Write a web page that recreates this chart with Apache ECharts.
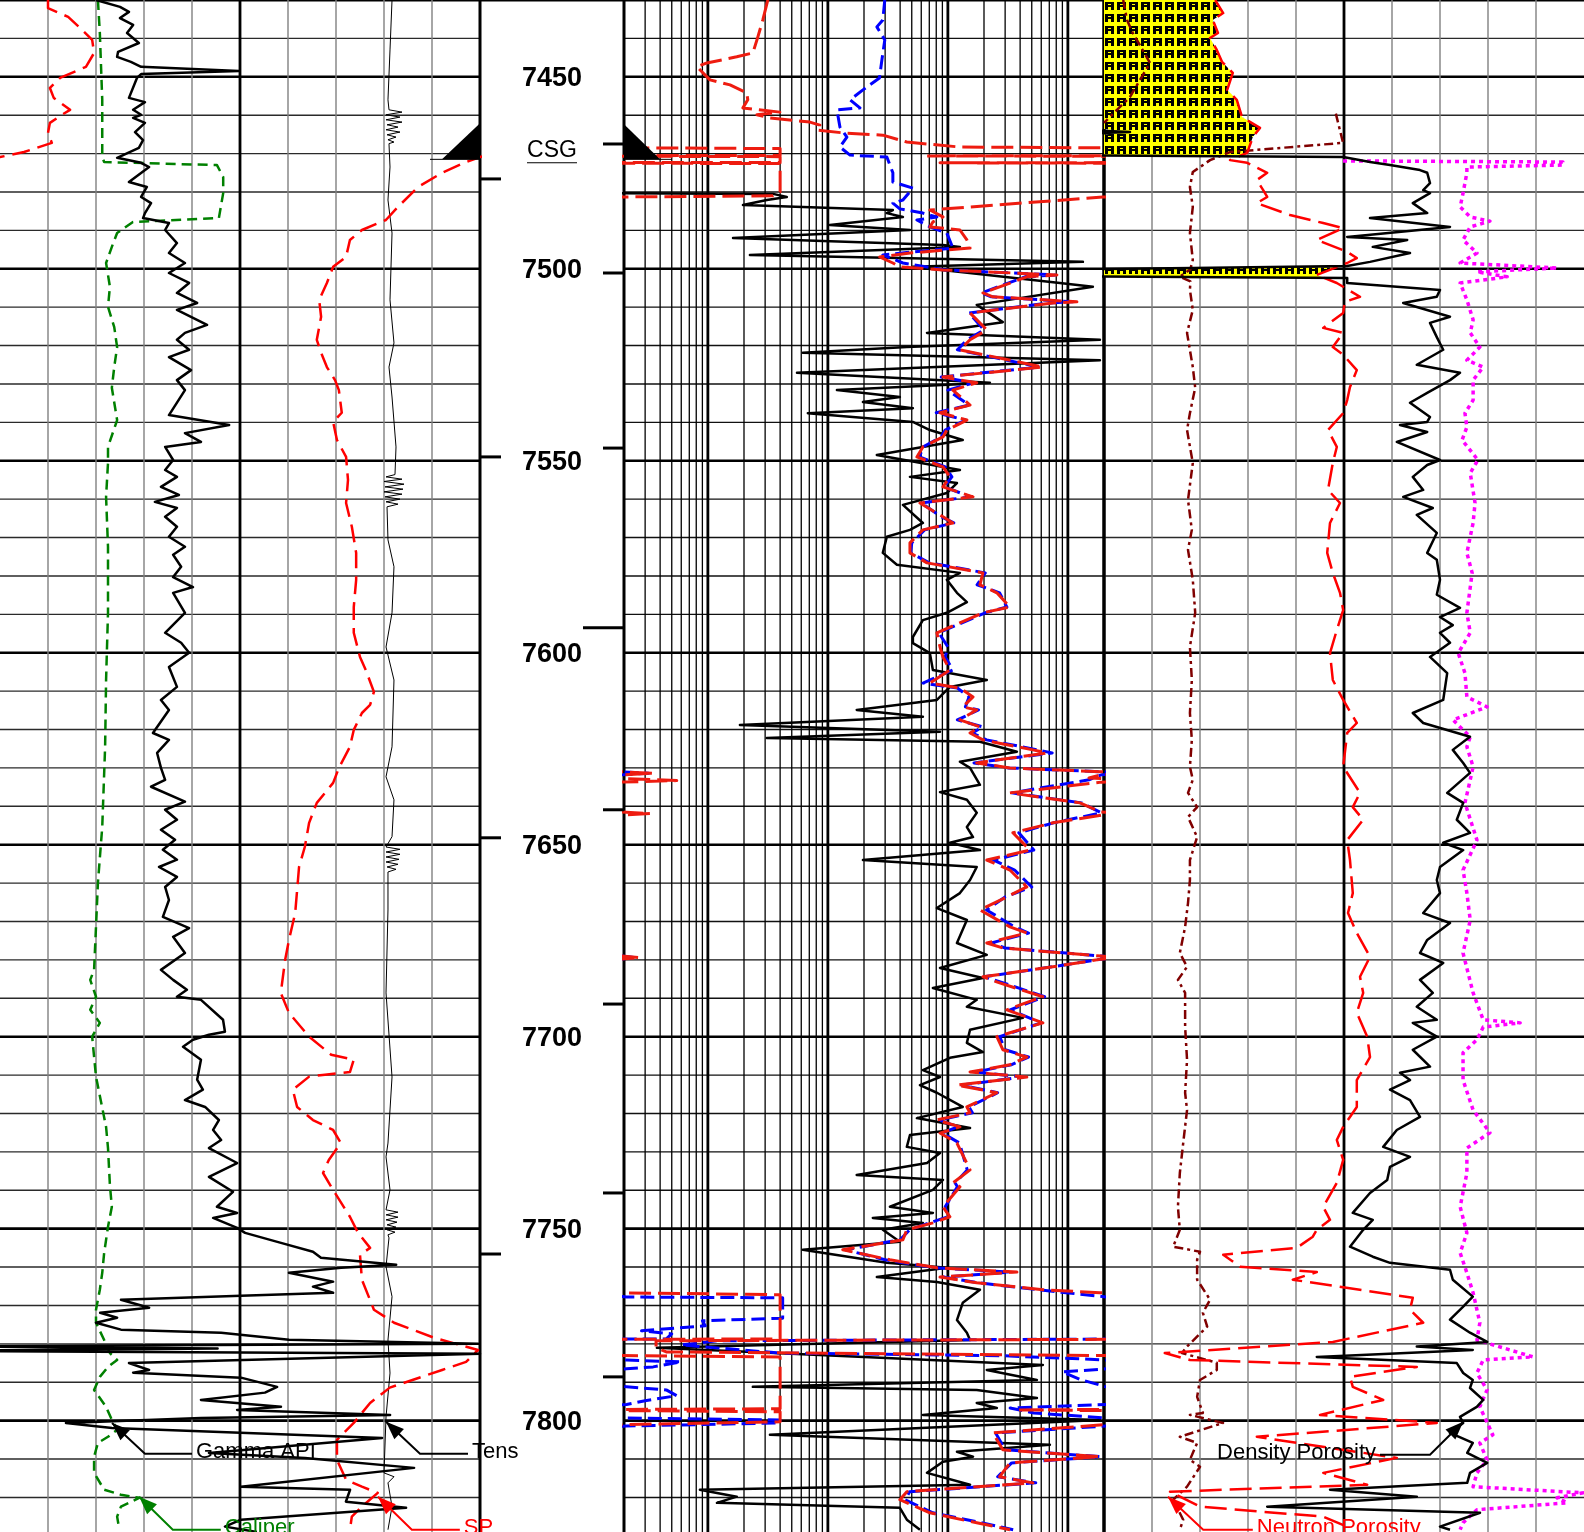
<!DOCTYPE html>
<html>
<head>
<meta charset="utf-8">
<title>Well log 7430-7829 ft</title>
<script src="https://cdn.jsdelivr.net/npm/echarts@6/dist/echarts.min.js"></script>
<style>
  html, body { margin: 0; padding: 0; background: #fff; }
  #log { width: 1584px; height: 1532px; }
</style>
</head>
<body>
<div id="log"></div>
<script>
// ---------------------------------------------------------------------------
// Depth reference
// ---------------------------------------------------------------------------
const DEPTH_TOP = 7430;
const DEPTH_BOTTOM = 7829;
const depthLabels = [7450, 7500, 7550, 7600, 7650, 7700, 7750, 7800];
const leftTickDepths = [7476.6, 7549.0, 7648.2, 7756.6];
const rightTickDepths = [7467.5, 7501.1, 7546.7, 7640.9, 7691.5, 7740.7, 7788.6];
const longTickDepths = [7593.5];
const casingShoeDepth = 7471.5;
const casingLabelDepth = 7469.0;

// ---------------------------------------------------------------------------
// Track 1 curves  [depth ft, value]
// ---------------------------------------------------------------------------
const gammaApi = [[7430.0,30],[7431.8,37.5],[7433.1,40.3],[7434.7,37.5],[7436.5,41.6],[7438.6,39.7],[7441.2,43.4],[7443.5,36.9],[7444.8,36.6],[7446.1,40.9],[7447.4,44.1],[7448.5,74.7],[7449.3,44.1],[7450.3,42.8],[7455.5,40.3],[7456.6,45.3],[7458.6,41.6],[7459.9,44.1],[7460.7,41.6],[7462.0,45.3],[7464.4,42.2],[7466.5,44.7],[7468.5,43.4],[7471.1,36.6],[7472.4,44.1],[7473.5,46.6],[7477.4,40.3],[7478.7,45.9],[7481.3,44.1],[7482.9,47.2],[7485.5,45.3],[7486.8,44.7],[7488.1,52.8],[7489.9,51.6],[7493.3,55.3],[7495.9,52.8],[7498.5,57.8],[7501.1,52.8],[7503.7,59.1],[7506.3,55.3],[7508.9,61.6],[7510.7,55.3],[7514.6,64.7],[7516.7,57.8],[7518.5,55.3],[7521.1,59.1],[7523.0,52.8],[7526.4,59.7],[7529.0,55.3],[7531.6,57.8],[7538.1,52.8],[7540.7,71.6],[7542.8,57.8],[7545.1,62.8],[7546.4,51.6],[7549.8,54.1],[7552.4,51.6],[7554.2,55.3],[7556.8,50.3],[7558.9,55.9],[7560.7,48.4],[7562.3,55.3],[7564.6,51.6],[7567.2,55.3],[7569.8,52.8],[7572.4,57.8],[7574.5,54.1],[7577.6,56.6],[7580.3,54.1],[7582.9,60.3],[7584.4,54.1],[7589.6,57.8],[7594.8,51.6],[7597.4,56.6],[7600.0,59.1],[7603.7,52.8],[7608.9,55.3],[7612.3,50.3],[7614.9,52.8],[7620.9,47.8],[7622.7,52.8],[7626.1,49.1],[7630.0,50.3],[7633.1,51.6],[7634.9,47.2],[7638.8,57.8],[7640.9,51.6],[7643.5,55.3],[7646.1,50.3],[7648.7,54.7],[7651.3,50.9],[7653.9,55.3],[7655.8,49.7],[7658.4,55.3],[7661.0,51.6],[7664.4,52.8],[7668.8,50.9],[7671.7,59.1],[7674.0,54.1],[7678.2,57.8],[7682.6,50.3],[7685.2,54.1],[7687.8,58.4],[7689.6,55.3],[7690.4,62.8],[7695.6,69.7],[7698.7,70.3],[7699.5,65.3],[7700.8,60.3],[7702.6,57.2],[7706.0,62.8],[7711.2,61.6],[7713.8,63.4],[7716.5,57.8],[7718.3,64.1],[7721.7,68.4],[7724.3,66.6],[7726.9,69.1],[7729.0,65.3],[7732.9,74.1],[7736.5,65.3],[7740.4,72.8],[7744.3,67.8],[7745.9,74.1],[7747.2,66.6],[7749.8,74.1],[7751.1,76.6],[7753.7,87.8],[7756.0,97.8],[7757.6,100.3],[7759.4,123.8],[7760.2,106.6],[7761.5,90.3],[7763.8,104.1],[7765.1,97.8],[7766.7,104.1],[7767.5,75.3],[7768.5,37.8],[7770.6,46.6],[7771.9,31.3],[7773.2,36.6],[7774.5,30.0],[7776.3,37.8],[7777.1,69.1],[7778.9,90.3],[7780.0,149.4],[7780.6,-20],[7781.2,68],[7781.8,-20],[7782.6,150],[7785.0,40.3],[7786.8,46.6],[7787.5,41.6],[7788.8,75.3],[7791.2,86.6],[7792.7,82.8],[7794.6,62.8],[7796.4,87.8],[7797.2,74.1],[7798.5,121.9],[7799.3,62.8],[7800.6,20.6],[7801.9,35.0],[7804.5,119.4],[7808.4,65.3],[7809.7,95.3],[7812.3,129.4],[7817.2,75.3],[7818.0,109.4],[7821.1,108.1],[7822.7,126.9],[7825.8,75.3],[7827.6,70.3],[7829.0,80.3]];

const caliper = [[7430.0,8.04],[7438.6,8.08],[7456.0,8.13],[7470.9,8.13],[7472.2,8.17],[7473.0,10.52],[7476.1,10.65],[7480.3,10.65],[7483.9,10.6],[7486.8,10.56],[7487.8,8.77],[7490.7,8.44],[7494.3,8.33],[7498.5,8.21],[7504.7,8.29],[7509.9,8.25],[7515.2,8.38],[7520.4,8.44],[7525.6,8.38],[7531.0,8.33],[7539.4,8.44],[7546.4,8.25],[7550.6,8.25],[7559.4,8.21],[7572.4,8.25],[7589.6,8.25],[7607.1,8.21],[7624.5,8.19],[7645.4,8.13],[7659.9,8.04],[7671.4,8.0],[7682.6,7.96],[7685.2,7.88],[7689.6,8.0],[7693.0,7.88],[7696.4,8.08],[7700.0,7.92],[7710.4,8.0],[7723.5,8.21],[7729.0,8.25],[7738.7,8.29],[7744.3,8.33],[7749.5,8.25],[7756.3,8.17],[7761.5,8.13],[7765.9,8.08],[7771.1,8.0],[7774.5,8.0],[7779.0,8.17],[7782.4,8.29],[7784.2,8.44],[7786.0,8.25],[7788.6,8.08],[7792.0,7.96],[7796.4,8.21],[7799.8,8.33],[7802.4,8.44],[7804.2,8.25],[7805.8,8.04],[7809.4,7.96],[7813.6,7.96],[7818.0,8.17],[7819.3,8.52],[7820.1,8.9],[7822.4,8.52],[7825.0,8.44],[7827.9,8.48]];

const spontaneousPotential = [[7430.0,-70],[7432.1,-70],[7434.4,-65.8],[7437.3,-63.3],[7440.4,-60.8],[7443.8,-60.4],[7447.4,-62.1],[7450.3,-67.5],[7452.9,-69.6],[7455.5,-68.8],[7458.6,-65.4],[7459.9,-67.1],[7462.0,-69.6],[7464.6,-70],[7467.2,-69.2],[7469.6,-75],[7470.9,-80],[7472.2,-82.9],[7475.0,-87.9],[7478.7,-92.9],[7483.9,-97.1],[7487.3,-99.6],[7489.9,-104.6],[7492.5,-107.1],[7496.9,-107.9],[7499.5,-110.6],[7503.7,-111.9],[7508.1,-113.5],[7512.5,-113.1],[7518.5,-114],[7521.9,-113.1],[7525.6,-111.9],[7529.0,-110.2],[7531.6,-109.4],[7537.5,-108.8],[7539.9,-110.6],[7544.6,-109.8],[7549.0,-107.9],[7555.0,-107.5],[7561.0,-107.9],[7567.2,-106.7],[7574.0,-105.8],[7581.0,-105.8],[7588.1,-106.3],[7594.8,-106.3],[7601.1,-105],[7604.5,-103.8],[7610.2,-102.1],[7613.6,-102.9],[7615.7,-104.6],[7620.1,-106.3],[7624.5,-107.1],[7630.0,-109.4],[7633.9,-110.6],[7639.1,-114],[7644.3,-115.6],[7650.6,-116.5],[7655.8,-117.7],[7667.8,-118.5],[7674.8,-119.8],[7680.0,-120.6],[7688.6,-121.5],[7693.8,-119.8],[7700.0,-115.6],[7704.7,-111],[7706.0,-106.3],[7709.2,-107.1],[7709.9,-112.3],[7710.4,-115.6],[7713.8,-119],[7718.3,-118.1],[7721.7,-114.8],[7724.3,-110.6],[7727.7,-109],[7732.1,-111.5],[7735.5,-112.7],[7739.9,-110.6],[7746.9,-107.1],[7751.1,-105.4],[7755.0,-102.9],[7756.8,-105],[7763.3,-104.6],[7771.1,-102.1],[7774.5,-97.9],[7778.4,-89.6],[7781.6,-80.4],[7784.7,-82.9],[7786.8,-87.9],[7791.4,-98.8],[7795.4,-102.9],[7800.6,-106.3],[7805.0,-109.8],[7810.2,-109.8],[7815.4,-107.9],[7817.2,-104.6],[7818.8,-101.3],[7822.4,-104.6],[7825.0,-106.7],[7828.4,-107.1]];

const tension = [[7430.0,8167],[7443.0,8125],[7456.0,8083],[7458.6,8104],[7459.2,8375],[7459.9,8042],[7460.5,8333],[7461.2,8042],[7461.8,8375],[7462.5,8063],[7463.1,8292],[7463.8,8042],[7464.4,8333],[7465.1,8063],[7465.7,8250],[7466.4,8083],[7467.0,8208],[7467.4,8104],[7473.5,8125],[7482.1,8083],[7490.7,8167],[7508.1,8125],[7519.3,8208],[7525.6,8104],[7533.4,8167],[7546.4,8250],[7553.6,8229],[7554.2,8042],[7554.8,8375],[7555.4,8000],[7556.1,8417],[7556.8,8021],[7557.4,8396],[7558.1,8000],[7558.7,8375],[7559.4,8021],[7560.0,8333],[7560.7,8042],[7561.3,8292],[7562.0,8063],[7562.3,8104],[7570.6,8083],[7577.6,8208],[7589.6,8167],[7598.5,8042],[7607.1,8208],[7624.5,8167],[7632.3,8042],[7638.3,8208],[7647.9,8167],[7650.6,8042],[7651.2,8333],[7651.9,8042],[7652.5,8333],[7653.2,8042],[7653.8,8313],[7654.5,8042],[7655.1,8292],[7655.8,8063],[7656.4,8250],[7657.1,8083],[7657.3,8104],[7667.0,8083],[7688.6,8042],[7710.5,8167],[7727.7,8083],[7731.3,8042],[7739.9,8125],[7745.1,8042],[7745.7,8292],[7746.4,8042],[7747.0,8292],[7747.7,8042],[7748.3,8271],[7749.0,8063],[7749.6,8250],[7750.3,8063],[7750.9,8229],[7751.6,8083],[7752.4,8104],[7759.9,8042],[7767.7,8167],[7779.0,8083],[7787.6,8125],[7799.0,8042],[7813.6,8000],[7814.6,8208],[7816.2,8083],[7822.4,8167],[7828.4,8083]];

// ---------------------------------------------------------------------------
// Track 2 resistivity curves, ohm-m  [depth ft, value]
// ---------------------------------------------------------------------------
const resShallow = [[7480.3,0.1],[7480.5,3.5],[7481.3,4.55],[7482.1,3.1],[7483.4,1.96],[7484.7,34.8],[7485.5,31],[7486.5,42.2],[7488.6,10.4],[7489.9,48.3],[7492.0,1.62],[7493.8,91],[7494.3,126],[7496.4,2.24],[7498.2,1334],[7499.5,51.1],[7503.7,858],[7504.7,1615],[7509.4,174],[7513.9,287],[7516.7,67],[7518.5,1850],[7520.4,45.5],[7521.9,6.19],[7523.8,1850],[7527.1,5.53],[7529.7,224],[7531.6,11.9],[7533.4,39.8],[7534.7,19.6],[7536.3,51.1],[7537.6,6.81],[7539.9,51.1],[7542.0,70.8],[7544.6,133],[7548.5,25.6],[7552.4,126],[7554.2,48.3],[7555.8,119],[7558.4,98],[7561.5,42.2],[7566.2,61.9],[7568.0,48.3],[7569.8,31.0],[7574.0,28.7],[7577.1,37.6],[7579.2,126],[7581.0,98],[7584.4,119],[7586.8,144],[7589.6,98],[7591.5,61.9],[7595.9,51.1],[7597.5,51.1],[7600.1,70.8],[7604.5,75],[7607.1,211],[7608.9,104],[7612.3,81],[7614.9,17.4],[7616.7,61.9],[7618.8,1.85],[7620.6,86],[7622.2,3.1],[7623.2,185],[7625.8,376],[7628.4,126],[7630.0,153],[7634.4,185],[7636.3,86],[7638.3,144],[7641.7,174],[7645.4,144],[7648.0,162],[7649.5,104],[7651.4,185],[7654.0,19.6],[7655.8,174],[7659.2,153],[7662.6,126],[7666.5,81],[7669.6,144],[7675.6,119],[7678.7,211],[7682.1,86],[7684.7,196],[7687.3,75],[7690.4,174],[7692.2,144],[7695.1,422],[7698.2,153],[7701.6,144],[7704.0,196],[7705.5,104],[7708.7,61.9],[7710.5,86],[7712.6,58.5],[7714.6,81],[7718.3,133],[7721.2,55.2],[7723.8,153],[7725.6,48.3],[7728.7,45.5],[7730.3,86],[7732.9,67],[7736.0,17.4],[7737.3,91],[7739.9,75],[7744.3,32.9],[7745.9,75],[7747.2,23.7],[7748.5,61.9],[7750.3,28.7],[7753.4,39.8],[7755.5,6.19],[7758.9,31.0],[7760.2,98],[7762.6,25.6],[7763.9,81],[7765.9,185],[7769.3,133],[7773.8,119],[7777.1,144],[7779.0,153],[7781.0,0.376],[7785.5,619],[7786.8,211],[7789.4,552],[7791.2,2.37],[7792.0,174],[7794.1,552],[7795.4,174],[7796.7,256],[7798.5,61.9],[7799.8,1850],[7803.7,3.29],[7806.3,708],[7808.1,119],[7809.4,162],[7810.7,91],[7813.6,67],[7816.7,153],[7818.0,0.858],[7819.8,1.74],[7821.4,1.19],[7822.7,39.8],[7825.8,45.5],[7828.4,58.5]];

const resMedium = [[7430.0,29.8],[7435.2,28.7],[7437.0,25.6],[7440.4,29.8],[7445.6,28.2],[7450.3,26.9],[7453.4,19.6],[7456.0,15.3],[7458.1,18.5],[7458.6,11.9],[7463.1,12.6],[7465.7,14.4],[7468.3,12.6],[7470.4,15.3],[7470.9,31],[7475.0,34.8],[7477.4,34.8],[7479.0,51.1],[7482.1,42.2],[7482.9,34.8],[7484.4,39.8],[7485.5,61.9],[7486.5,81],[7487.3,55.2],[7489.1,70.8],[7490.7,98],[7494.6,110],[7496.4,28.7],[7498.5,42.2],[7500.3,95],[7501.6,780],[7502.1,440],[7506.3,190],[7507.3,230],[7508.6,1100],[7508.9,700],[7511.5,150],[7515.9,200],[7518.5,145],[7521.1,120],[7525.6,580],[7528.2,88],[7529.7,165],[7531.6,100],[7535.5,150],[7537.5,80],[7539.4,140],[7542.0,95],[7543.8,88],[7546.4,62],[7549.0,58],[7551.6,95],[7554.2,108],[7556.8,93],[7559.4,155],[7561.0,60],[7564.6,88],[7566.2,112],[7568.0,64],[7571.4,50],[7574.0,49],[7576.6,70],[7579.2,205],[7582.3,175],[7584.4,270],[7588.1,310],[7589.6,205],[7594.8,84],[7598.5,100],[7601.1,95],[7604.5,110],[7607.9,62],[7609.2,120],[7611.5,150],[7614.1,140],[7614.9,180],[7617.5,120],[7619.3,195],[7620.9,160],[7622.7,210],[7625.3,560],[7626.1,740],[7628.7,165],[7630.0,320],[7631.0,1900],[7631.4,3200],[7631.8,1900],[7633.1,1500],[7636.5,340],[7639.1,1300],[7641.7,1900],[7644.3,760],[7646.9,390],[7651.4,520],[7654.0,240],[7656.6,360],[7661.0,500],[7663.6,300],[7667.0,210],[7671.4,360],[7673.0,470],[7675.6,230],[7676.9,300],[7679.0,1900],[7679.4,2500],[7679.8,1900],[7681.8,740],[7684.4,200],[7686.0,290],[7689.6,640],[7693.0,330],[7696.4,600],[7700.0,270],[7703.4,300],[7705.3,470],[7707.3,340],[7709.2,170],[7710.5,420],[7712.6,130],[7714.6,260],[7718.3,150],[7719.8,160],[7721.7,85],[7723.5,120],[7725.1,90],[7727.7,125],[7734.7,145],[7738.1,115],[7739.1,120],[7744.3,95],[7746.9,100],[7748.5,70],[7750.3,48],[7752.9,40],[7755.5,14],[7758.1,30],[7760.2,78],[7761.3,330],[7762.6,92],[7764.1,180],[7765.9,560],[7767.8,2100],[7768.0,42000],[7773.3,42000],[7774.0,9000],[7775.3,9500],[7776.6,2800],[7777.4,5000],[7778.7,4500],[7779.2,1.2],[7780.3,0.6],[7782.4,4.0],[7783.1,290],[7784.2,2100],[7784.7,6000],[7786.0,3500],[7786.5,2100],[7787.3,900],[7789.4,1300],[7791.2,2100],[7792.0,4500],[7793.5,5500],[7794.8,3000],[7795.8,2100],[7796.7,330],[7798.0,520],[7799.3,2100],[7799.8,40000],[7800.6,40000],[7801.4,2100],[7803.2,250],[7807.6,300],[7809.4,1900],[7811.0,340],[7814.6,260],[7816.2,540],[7818.5,48],[7820.6,44],[7824.0,75],[7826.6,190],[7828.4,350]];

const resDeep = [[7430.0,3.16],[7435.2,2.87],[7439.6,2.61],[7443.8,2.37],[7444.8,1.74],[7446.4,0.98],[7447.4,0.81],[7450.8,1.04],[7452.1,1.53],[7454.2,2.11],[7456.0,2.15],[7458.1,1.96],[7459.2,3.98],[7459.9,2.56],[7460.7,3.29],[7461.8,7.08],[7462.6,8.58],[7463.9,8.1],[7464.6,13.3],[7465.2,28.7],[7467.0,45.5],[7468.3,126],[7468.7,40000],[7470.5,40000],[7470.6,67],[7470.8,40000],[7472.3,40000],[7472.4,86],[7472.6,40000],[7480.0,40000],[7481.0,34800],[7481.3,1950],[7484.7,70.8],[7486.5,91],[7487.8,75],[7489.1,70.8],[7489.9,126],[7492.5,144],[7494.6,153],[7495.9,48.3],[7496.9,27],[7498.5,34.8],[7499.5,39.8],[7500.3,91],[7501.6,810],[7502.1,455],[7506.3,196],[7507.3,237],[7508.6,1189],[7508.9,750],[7511.5,153],[7515.9,211],[7518.5,153],[7521.1,126],[7525.6,619],[7528.2,91],[7529.7,174],[7531.6,110],[7535.5,153],[7537.5,86],[7539.4,144],[7542.0,98],[7543.8,91],[7546.4,61.9],[7549.0,55.2],[7551.6,91],[7554.2,104],[7556.8,91],[7559.4,162],[7561.0,58.5],[7564.6,91],[7566.2,110],[7568.0,61.9],[7571.4,48.3],[7574.0,48.3],[7576.6,67],[7579.2,196],[7582.3,185],[7584.4,256],[7588.1,329],[7589.6,196],[7594.8,81],[7598.5,86],[7601.1,91],[7604.5,104],[7607.9,70.8],[7609.2,126],[7611.5,162],[7614.1,133],[7614.9,174],[7617.5,126],[7619.3,185],[7620.9,153],[7622.7,196],[7625.3,511],[7626.1,670],[7628.7,174],[7630.0,329],[7631.0,1900],[7631.4,3500],[7631.8,1900],[7632.6,1500],[7633.3,5500],[7633.7,1900],[7636.5,329],[7639.1,1260],[7641.5,1900],[7641.9,3300],[7642.3,1900],[7644.3,750],[7646.9,348],[7651.4,483],[7654.0,211],[7656.6,329],[7661.0,455],[7663.6,310],[7667.0,185],[7671.4,329],[7673.0,455],[7675.6,211],[7676.9,287],[7679.0,1900],[7679.4,2700],[7679.8,1900],[7681.8,750],[7684.4,196],[7686.0,270],[7689.6,619],[7693.0,310],[7696.4,619],[7700.0,256],[7703.4,287],[7705.3,455],[7707.3,329],[7709.2,153],[7710.5,455],[7712.6,119],[7714.6,256],[7718.3,144],[7719.8,153],[7721.7,81],[7723.5,126],[7725.1,86],[7727.7,119],[7734.7,153],[7738.1,110],[7739.1,126],[7744.3,91],[7746.9,104],[7748.5,75],[7750.3,45.5],[7752.9,42.2],[7755.5,13.3],[7758.1,32.9],[7760.2,81],[7761.3,376],[7762.6,86],[7764.1,174],[7765.9,619],[7766.7,1850],[7767.2,40000],[7778.7,40000],[7779.2,0.37],[7781.0,0.37],[7782.1,0.45],[7783.4,40000],[7796.9,40000],[7797.2,376],[7797.7,40000],[7800.3,40000],[7801.0,2100],[7803.2,237],[7807.6,287],[7809.4,1850],[7811.0,329],[7814.6,270],[7816.2,511],[7818.5,45.5],[7820.6,39.8],[7824.0,70.8],[7826.6,174],[7828.4,329]];

// ---------------------------------------------------------------------------
// Track 3 curves  [depth ft, value]   (null = no reading shown)
// ---------------------------------------------------------------------------
const densityPorosity = [[7430.0,0.5],[7463.6,0.5],[7464.4,0.4175],[7465.0,0.5],[7470.4,0.5],[7470.9,0.151],[7472.2,0.1175],[7473.0,0.0925],[7474.3,0.055],[7475.0,0.046],[7477.7,0.0425],[7479.5,0.051],[7480.3,0.0425],[7482.9,0.064],[7485.5,0.046],[7486.8,0.1175],[7489.1,0.0175],[7491.7,0.146],[7492.5,0.071],[7494.3,0.114],[7495.9,0.0675],[7498.2,0.1175],[7499.3,0.146],[7499.8,0.339],[7500.3,0.55],[7501.9,0.55],[7502.4,0.146],[7503.7,0.146],[7505.5,0.03],[7507.3,0.034],[7508.9,0.076],[7512.5,0.0175],[7514.1,0.0425],[7517.8,0.034],[7521.1,0.026],[7525.0,0.059],[7527.1,0.005],[7529.0,0.0175],[7532.3,0.046],[7534.9,0.0675],[7538.6,0.0425],[7539.9,0.046],[7540.7,0.08],[7542.5,0.046],[7545.1,0.084],[7549.8,0.03],[7551.1,0.046],[7554.2,0.064],[7557.6,0.051],[7559.4,0.076],[7562.3,0.039],[7564.1,0.059],[7568.8,0.034],[7574.0,0.046],[7575.8,0.034],[7581.0,0.03],[7584.9,0.034],[7588.3,0.005],[7590.7,0.03],[7592.8,0.014],[7594.8,0.03],[7597.4,0.0175],[7601.1,0.0425],[7605.3,0.021],[7612.3,0.026],[7615.7,0.064],[7618.3,0.051],[7621.9,-0.0075],[7625.3,0.014],[7628.7,0.001],[7631.3,-0.0075],[7636.5,0.021],[7639.1,0.001],[7643.5,0.009],[7646.9,-0.0075],[7649.5,0.026],[7651.4,0.001],[7655.8,0.03],[7659.2,0.034],[7662.6,0.03],[7667.8,0.051],[7670.4,0.0175],[7674.8,0.046],[7678.2,0.055],[7680.8,0.026],[7685.2,0.055],[7688.6,0.039],[7692.2,0.059],[7695.6,0.034],[7696.4,0.064],[7700.0,0.034],[7703.4,0.064],[7707.8,0.0425],[7709.4,0.08],[7711.3,0.0675],[7713.8,0.0925],[7716.5,0.0675],[7720.9,0.055],[7724.3,0.084],[7728.7,0.101],[7731.3,0.0675],[7733.9,0.0925],[7737.3,0.096],[7740.7,0.1175],[7745.9,0.139],[7747.7,0.114],[7750.3,0.126],[7754.7,0.1425],[7757.3,0.114],[7758.9,0.0925],[7760.7,0.0175],[7763.3,0.014],[7767.7,-0.011],[7770.3,0.001],[7773.7,0.0175],[7777.1,-0.0075],[7779.5,-0.029],[7780.7,0.059],[7781.6,-0.011],[7783.4,0.184],[7785.0,0.009],[7787.6,0.001],[7789.4,-0.011],[7791.5,-0.0075],[7794.6,-0.024],[7796.4,-0.016],[7799.0,0.005],[7800.6,0.001],[7803.2,0.0175],[7805.8,-0.011],[7808.4,-0.004],[7811.0,-0.029],[7813.6,-0.0075],[7816.2,-0.004],[7818.0,0.1675],[7819.8,0.059],[7822.4,0.246],[7824.0,-0.02],[7827.6,0.03],[7828.4,0.0175]];

const neutronPorosity = [[7430.0,0.311],[7433.4,0.301],[7435.2,0.314],[7438.6,0.3075],[7439.9,0.3175],[7443.0,0.309],[7446.1,0.3025],[7449.0,0.289],[7453.4,0.296],[7456.0,0.284],[7460.5,0.2775],[7463.3,0.255],[7465.7,0.264],[7469.8,0.271],[7471.7,0.2925],[7472.4,0.271],[7475.0,0.246],[7476.9,0.259],[7479.5,0.251],[7481.3,0.246],[7482.9,0.259],[7486.0,0.2175],[7488.1,0.176],[7489.4,0.151],[7492.5,0.184],[7495.6,0.146],[7497.2,0.134],[7498.5,0.146],[7501.6,0.184],[7503.7,0.159],[7507.3,0.13],[7508.6,0.149],[7511.5,0.151],[7515.4,0.176],[7516.7,0.151],[7520.4,0.164],[7522.4,0.151],[7526.4,0.134],[7530.8,0.1425],[7534.2,0.146],[7537.6,0.151],[7542.0,0.17],[7546.4,0.159],[7550.6,0.164],[7557.6,0.17],[7561.0,0.155],[7566.2,0.1675],[7574.0,0.171],[7579.2,0.164],[7584.4,0.155],[7588.9,0.151],[7594.1,0.159],[7600.1,0.1675],[7607.1,0.164],[7612.3,0.151],[7618.3,0.134],[7620.9,0.146],[7629.7,0.151],[7636.5,0.13],[7640.2,0.139],[7643.5,0.126],[7648.8,0.146],[7654.0,0.1425],[7662.6,0.139],[7667.8,0.145],[7673.0,0.134],[7679.2,0.1175],[7684.4,0.13],[7688.6,0.126],[7693.8,0.134],[7700.0,0.121],[7705.3,0.1175],[7711.3,0.134],[7718.3,0.134],[7723.5,0.151],[7726.9,0.159],[7732.1,0.151],[7738.1,0.159],[7744.3,0.176],[7747.7,0.1675],[7750.3,0.184],[7752.1,0.189],[7755.0,0.209],[7756.8,0.301],[7759.9,0.28],[7761.3,0.184],[7763.3,0.214],[7768.0,0.064],[7771.1,0.0675],[7774.5,0.051],[7779.5,0.164],[7782.4,0.374],[7784.2,0.3425],[7786.0,0.059],[7788.6,0.1425],[7791.2,0.139],[7794.6,0.101],[7798.5,0.18],[7800.6,0.034],[7804.2,0.259],[7809.7,0.084],[7813.6,0.176],[7816.7,0.121],[7818.5,0.3675],[7822.4,0.33],[7825.0,0.176],[7827.6,0.146]];

const photoelectric = [[7471.9,4.98],[7472.2,9.56],[7473.0,9.56],[7473.5,7.56],[7475.0,7.56],[7480.3,7.48],[7483.9,7.42],[7486.5,7.63],[7487.6,8.04],[7489.1,7.63],[7492.5,7.48],[7495.9,7.77],[7498.5,7.42],[7499.8,9.44],[7500.8,7.77],[7502.1,8.4],[7503.7,7.42],[7508.1,7.56],[7513.3,7.69],[7516.7,7.63],[7520.4,7.83],[7523.8,7.56],[7525.6,7.9],[7529.0,7.69],[7534.2,7.69],[7537.6,7.52],[7541.2,7.56],[7544.6,7.46],[7549.8,7.79],[7553.2,7.63],[7561.0,7.73],[7566.2,7.69],[7574.0,7.56],[7579.2,7.67],[7589.6,7.56],[7594.8,7.63],[7600.1,7.38],[7605.3,7.52],[7611.5,7.56],[7614.1,7.98],[7617.5,7.27],[7621.9,7.63],[7624.5,7.56],[7629.7,7.69],[7633.1,7.63],[7639.1,7.52],[7648.8,7.77],[7656.6,7.48],[7662.6,7.56],[7669.6,7.63],[7678.2,7.48],[7688.6,7.69],[7695.6,7.9],[7696.4,8.67],[7697.5,7.9],[7700.8,7.77],[7704.2,7.48],[7711.3,7.48],[7719.1,7.69],[7725.0,8.04],[7729.0,7.56],[7735.5,7.56],[7744.3,7.42],[7751.1,7.56],[7756.3,7.42],[7761.5,7.56],[7766.7,7.69],[7774.5,7.83],[7779.0,7.77],[7783.4,8.94],[7784.2,7.9],[7787.6,7.77],[7792.0,7.98],[7796.4,7.83],[7803.7,8.1],[7805.8,7.83],[7810.2,7.98],[7813.6,7.77],[7817.2,7.69],[7818.8,9.98],[7820.1,9.44],[7821.4,9.65],[7823.2,7.77],[7826.6,7.48],[7828.4,7.42]];

const densityCorrection = [[7430.0,-0.16],[7435.2,-0.152],[7438.6,-0.14],[7446.4,-0.104],[7450.8,-0.125],[7455.3,-0.146],[7458.6,-0.173],[7462.0,-0.2],[7462.6,null],[7459.6,0.283],[7467.2,0.298],[7469.6,0.0625],[7471.7,0.021],[7474.8,-0.015],[7478.7,-0.021],[7483.9,-0.015],[7490.7,-0.021],[7497.7,-0.015],[7500.1,-0.02],[7502.1,-0.042],[7503.3,-0.02],[7505.5,-0.021],[7510.7,-0.015],[7516.7,-0.027],[7525.6,-0.015],[7531.0,-0.01],[7537.6,-0.021],[7542.0,-0.027],[7550.6,-0.015],[7560.2,-0.025],[7568.0,-0.017],[7573.2,-0.025],[7581.0,-0.015],[7589.6,-0.01],[7598.5,-0.021],[7607.1,-0.017],[7615.7,-0.021],[7622.7,-0.017],[7629.7,-0.021],[7633.1,-0.015],[7636.5,-0.025],[7640.2,-0.006],[7642.8,-0.025],[7648.0,-0.006],[7654.0,-0.021],[7659.2,-0.021],[7665.2,-0.025],[7671.4,-0.031],[7678.2,-0.042],[7681.8,-0.027],[7685.2,-0.046],[7688.6,-0.031],[7697.4,-0.031],[7706.0,-0.027],[7714.6,-0.031],[7719.1,-0.027],[7727.7,-0.035],[7735.5,-0.042],[7744.3,-0.046],[7750.3,-0.042],[7754.7,-0.056],[7756.0,0.0],[7758.1,-0.006],[7763.3,-0.006],[7768.5,0.021],[7771.9,0.006],[7775.5,0.015],[7780.7,-0.027],[7782.4,-0.0375],[7784.9,0.035],[7786.8,0.035],[7789.4,0.0],[7793.8,-0.006],[7798.0,0.006],[7798.5,-0.021],[7800.6,0.048],[7804.2,-0.042],[7805.8,-0.006],[7810.2,-0.021],[7812.0,0.0],[7817.2,-0.027],[7820.6,-0.056],[7825.8,-0.035],[7828.4,-0.042]];

// Depth intervals where density porosity reads above neutron porosity (shaded)
const gasFillRanges = [[7430, 7470.4], [7499.7, 7502.3]];

// Curve name tags with leader lines: anchor points as [depth, curve value]
const curveNotes = [
  { text: 'Gamma API', axis: 0, grid: 0, tip: [7800.6, 35], elbow: [7808.6, 45.3], end: [7808.6, 60], color: '#000', align: 'left' },
  { text: 'Tens', axis: 4, grid: 0, tip: [7800.3, 8042], elbow: [7808.6, 8750], end: [7808.6, 9750], color: '#000', align: 'left' },
  { text: 'Caliper', axis: 1, grid: 0, tip: [7819.8, 8.9], elbow: [7828.4, 9.6], end: [7828.4, 10.6], color: '#008000', align: 'left' },
  { text: 'SP', axis: 3, grid: 0, tip: [7819.8, -101.25], elbow: [7828.4, -94.2], end: [7828.4, -84.2], color: '#ff0000', align: 'left' },
  { text: 'Density Porosity', axis: 8, grid: 3, tip: [7800.3, 0.001], elbow: [7808.9, 0.0425], end: [7808.9, 0.105], color: '#000', align: 'right' },
  { text: 'Neutron Porosity', axis: 8, grid: 3, tip: [7819.8, 0.37], elbow: [7828.4, 0.326], end: [7828.4, 0.264], color: '#ff0000', align: 'left' }
];

// ---------------------------------------------------------------------------
// Helpers
// ---------------------------------------------------------------------------
const FONT = '"Liberation Sans", Arial, sans-serif';

function valueAt(curve, d) {
  for (let i = 1; i < curve.length; i++) {
    if (curve[i][0] >= d) {
      const a = curve[i - 1], b = curve[i];
      return b[0] === a[0] ? b[1] : a[1] + (b[1] - a[1]) * (d - a[0]) / (b[0] - a[0]);
    }
  }
  return curve[curve.length - 1][1];
}
function section(curve, d0, d1) {
  return [[d0, valueAt(curve, d0)]]
    .concat(curve.filter(p => p[0] > d0 && p[0] < d1))
    .concat([[d1, valueAt(curve, d1)]]);
}

function depthGridLines(minorColor) {
  const out = [];
  for (let d = DEPTH_TOP; d < DEPTH_BOTTOM; d += 10) {
    if (d === DEPTH_TOP) out.push({ dir: 'h', v: d, w: 3, c: '#000' });
    else if (d % 50 === 0) out.push({ dir: 'h', v: d, w: 2.6, c: '#000' });
    else out.push({ dir: 'h', v: d, w: 1.4, c: minorColor });
  }
  return out;
}
function linearVerticals(min, step, leftBorder, rightBorder) {
  const out = [];
  for (let i = 0; i <= 10; i++) {
    const v = min + i * step;
    if (i === 0) { if (leftBorder) out.push({ dir: 'v', v, w: 3, c: '#000' }); }
    else if (i === 10) { if (rightBorder) out.push({ dir: 'v', v, w: 3, c: '#000' }); }
    else if (i === 5) out.push({ dir: 'v', v, w: 2.8, c: '#000' });
    else out.push({ dir: 'v', v, w: 1.4, c: '#808080' });
  }
  return out;
}
function logVerticals() {
  const out = [{ dir: 'v', v: 0.2, w: 3, c: '#000' }];
  [0.1, 1, 10, 100, 1000].forEach(dec => {
    for (let m = 1; m <= 9; m++) {
      const v = +(m * dec).toPrecision(3);
      if (v <= 0.2 || v >= 2000) continue;
      out.push({ dir: 'v', v, w: m === 1 ? 2.8 : 1.3, c: '#000' });
    }
  });
  out.push({ dir: 'v', v: 2000, w: 3, c: '#000' });
  return out;
}

function gridSeries(xi, yi, lines, xRef) {
  return {
    type: 'custom', xAxisIndex: xi, yAxisIndex: yi, z: 1, silent: true,
    data: lines.map(() => [xRef, 7600]),
    renderItem(params, api) {
      const l = lines[params.dataIndex];
      const cs = params.coordSys;
      if (l.dir === 'h') {
        const y = api.coord([xRef, l.v])[1];
        return { type: 'line', shape: { x1: cs.x, y1: y, x2: cs.x + cs.width, y2: y }, style: { stroke: l.c, lineWidth: l.w } };
      }
      const x = api.coord([l.v, 7600])[0];
      return { type: 'line', shape: { x1: x, y1: cs.y, x2: x, y2: cs.y + cs.height }, style: { stroke: l.c, lineWidth: l.w } };
    }
  };
}

function curve(name, xi, yi, data, color, width, type, z) {
  return {
    name, type: 'line', xAxisIndex: xi, yAxisIndex: yi,
    data: data.map(p => [p[1] === null ? '-' : p[1], p[0]]),
    symbol: 'none', showSymbol: false, clip: true, silent: true, connectNulls: false,
    lineStyle: { color, width, type, cap: 'butt', join: 'round' },
    z: z || 3
  };
}

// Yellow lithology fill with a bold black glyph repeated on a 12 px cell
function makeLithPattern() {
  const c = document.createElement('canvas');
  c.width = 12; c.height = 12;
  const g = c.getContext('2d');
  g.fillStyle = '#ffff00';
  g.fillRect(0, 0, 12, 12);
  g.fillStyle = '#000';
  g.fillRect(1, 2, 3, 8);
  g.fillRect(7, 2, 3, 8);
  g.fillRect(4, 5, 3, 2);
  g.fillRect(4, 2, 3, 2);
  return c;
}
const lithPattern = makeLithPattern();

// ---------------------------------------------------------------------------
// Axes
// ---------------------------------------------------------------------------
const depthAxis = gi => ({ type: 'value', gridIndex: gi, min: DEPTH_TOP, max: DEPTH_BOTTOM, inverse: true, show: false });

const xAxes = [
  { type: 'value', gridIndex: 0, min: 0, max: 150, show: false },          // 0 Gamma API
  { type: 'value', gridIndex: 0, min: 6, max: 16, show: false },           // 1 Caliper in
  { type: 'value', gridIndex: 0, min: -80, max: 20, show: false },         // 2 SP mV
  { type: 'value', gridIndex: 0, min: -180, max: -80, show: false },       // 3 SP backup
  { type: 'value', gridIndex: 0, min: 0, max: 10000, show: false },        // 4 Tension lb
  { type: 'value', gridIndex: 1, min: 0, max: 1, show: false },            // 5 depth track
  { type: 'log', logBase: 10, gridIndex: 2, min: 0.2, max: 2000, show: false },     // 6 resistivity
  { type: 'log', logBase: 10, gridIndex: 2, min: 2000, max: 20000000, show: false },// 7 resistivity backup
  { type: 'value', gridIndex: 3, min: -0.15, max: 0.45, inverse: true, show: false },// 8 porosity
  { type: 'value', gridIndex: 3, min: 0, max: 10, show: false },           // 9 PE
  { type: 'value', gridIndex: 3, min: -0.2, max: 0.8, show: false }        // 10 density correction
];

// ---------------------------------------------------------------------------
// Depth track furniture
// ---------------------------------------------------------------------------
const depthItems = [];
depthLabels.forEach(d => depthItems.push({ kind: 'label', d }));
leftTickDepths.forEach(d => depthItems.push({ kind: 'left', d }));
rightTickDepths.forEach(d => depthItems.push({ kind: 'right', d, len: 21 }));
longTickDepths.forEach(d => depthItems.push({ kind: 'right', d, len: 41 }));
depthItems.push({ kind: 'csg', d: casingLabelDepth });
depthItems.push({ kind: 'shoe', d: casingShoeDepth });
depthItems.push({ kind: 'top', d: DEPTH_TOP });

const depthTrackSeries = {
  type: 'custom', xAxisIndex: 5, yAxisIndex: 1, z: 6, silent: true,
  data: depthItems.map(() => [0.5, 7600]),
  renderItem(params, api) {
    const it = depthItems[params.dataIndex];
    const cs = params.coordSys;
    const y = api.coord([0.5, it.d])[1];
    const L = cs.x, R = cs.x + cs.width, C = cs.x + cs.width / 2;
    const black = { stroke: '#000', lineWidth: 3 };
    switch (it.kind) {
      case 'label':
        return { type: 'text', style: { text: String(it.d), x: C, y: y + 2, font: 'bold 27px ' + FONT, fill: '#000', align: 'center', verticalAlign: 'middle' } };
      case 'left':
        return { type: 'line', shape: { x1: L, y1: y, x2: L + 21, y2: y }, style: black };
      case 'right':
        return { type: 'line', shape: { x1: R - it.len, y1: y, x2: R, y2: y }, style: black };
      case 'top':
        return { type: 'line', shape: { x1: L, y1: y, x2: R, y2: y }, style: black };
      case 'csg':
        return { type: 'group', children: [
          { type: 'text', style: { text: 'CSG', x: C, y: y + 1, font: '23px ' + FONT, fill: '#000', align: 'center', verticalAlign: 'middle' } },
          { type: 'line', shape: { x1: C - 25, y1: y + 13, x2: C + 25, y2: y + 13 }, style: { stroke: '#000', lineWidth: 1.2 } }
        ] };
      case 'shoe':
        return { type: 'group', children: [
          { type: 'polygon', shape: { points: [[L - 38, y], [L, y - 36], [L, y]] }, style: { fill: '#000' } },
          { type: 'line', shape: { x1: L - 50, y1: y, x2: L, y2: y }, style: { stroke: '#000', lineWidth: 1 } },
          { type: 'polygon', shape: { points: [[R, y - 35], [R, y], [R + 36, y]] }, style: { fill: '#000' } },
          { type: 'line', shape: { x1: R, y1: y, x2: R + 48, y2: y }, style: { stroke: '#000', lineWidth: 1 } }
        ] };
    }
    return null;
  }
};

// Shading between density porosity and neutron porosity
const gasFillSeries = {
  type: 'custom', xAxisIndex: 8, yAxisIndex: 3, z: 2, silent: true,
  data: gasFillRanges.map(() => [0.2, 7600]),
  renderItem(params, api) {
    const r = gasFillRanges[params.dataIndex];
    const right = section(neutronPorosity, r[0], r[1]);
    const left = section(densityPorosity, r[0], r[1]).map(p => [p[0], Math.min(p[1], 0.45)]).reverse();
    const pts = right.concat(left).map(p => api.coord([p[1], p[0]]));
    return { type: 'polygon', shape: { points: pts }, style: { fill: { image: lithPattern, repeat: 'repeat' }, stroke: null } };
  }
};

function noteSeries(n) {
  return {
    type: 'custom', xAxisIndex: n.axis, yAxisIndex: n.grid, z: 7, silent: true,
    data: [[n.tip[1], n.tip[0]]],
    renderItem(params, api) {
      const pt = p => api.coord([p[1], p[0]]);
      const a = pt(n.tip), b = pt(n.elbow), c = pt(n.end);
      const dx = b[0] - a[0], dy = b[1] - a[1];
      const len = Math.hypot(dx, dy) || 1;
      const ux = dx / len, uy = dy / len;
      const AL = 18, AW = 7;
      const bx = a[0] + ux * AL, by = a[1] + uy * AL;
      const head = [a, [bx - uy * AW, by + ux * AW], [bx + uy * AW, by - ux * AW]];
      return { type: 'group', children: [
        { type: 'polyline', shape: { points: [a, b, c] }, style: { stroke: n.color, lineWidth: 2, fill: null } },
        { type: 'polygon', shape: { points: head }, style: { fill: n.color } },
        { type: 'text', style: { text: n.text, x: c[0] + (n.align === 'left' ? 4 : -4), y: c[1] - 2, font: '22px ' + FONT, fill: n.color, align: n.align, verticalAlign: 'middle' } }
      ] };
    }
  };
}

// ---------------------------------------------------------------------------
// Chart
// ---------------------------------------------------------------------------
const trackRed = '#ff0000';
const option = {
  animation: false,
  backgroundColor: '#fff',
  grid: [
    { left: 0, top: 0, width: 480, height: 1532 },
    { left: 480, top: 0, width: 144, height: 1532 },
    { left: 624, top: 0, width: 480, height: 1532 },
    { left: 1104, top: 0, width: 480, height: 1532 }
  ],
  xAxis: xAxes,
  yAxis: [depthAxis(0), depthAxis(1), depthAxis(2), depthAxis(3)],
  series: [
    gridSeries(0, 0, depthGridLines('#2a2a2a').concat(linearVerticals(0, 15, false, true)), 75),
    gridSeries(6, 2, depthGridLines('#111').concat(logVerticals()), 1),
    gridSeries(9, 3, depthGridLines('#2a2a2a').concat(linearVerticals(0, 1, true, false)), 5),
    gasFillSeries,

    curve('Tens', 4, 0, tension, '#000', 1, 'solid'),
    curve('Caliper', 1, 0, caliper, '#008000', 2.5, [10, 6]),
    curve('SP', 2, 0, spontaneousPotential, trackRed, 2.5, [18, 8]),
    curve('SP backup', 3, 0, spontaneousPotential, trackRed, 2.5, [18, 8]),
    curve('Gamma API', 0, 0, gammaApi, '#000', 2.5, 'solid', 4),

    curve('Shallow resistivity', 6, 2, resShallow, '#000', 2.5, 'solid'),
    curve('Shallow resistivity backup', 7, 2, resShallow, '#000', 2.5, 'solid'),
    curve('Medium resistivity', 6, 2, resMedium, '#0000ff', 3, [14, 6], 4),
    curve('Medium resistivity backup', 7, 2, resMedium, '#0000ff', 3, [14, 6], 4),
    curve('Deep resistivity', 6, 2, resDeep, '#ee1c10', 3, [22, 7], 5),
    curve('Deep resistivity backup', 7, 2, resDeep, '#ee1c10', 3, [22, 7], 5),

    curve('PE', 9, 3, photoelectric, '#ff00ff', 3.5, [4, 4]),
    curve('Density correction', 10, 3, densityCorrection, '#800000', 2.5, [9, 4, 3, 4]),
    curve('Neutron Porosity', 8, 3, neutronPorosity, trackRed, 2.5, [22, 8], 4),
    curve('Density Porosity', 8, 3, densityPorosity, '#000', 2.5, 'solid', 5),

    depthTrackSeries
  ].concat(curveNotes.map(noteSeries))
};

const chart = echarts.init(document.getElementById('log'), null, { renderer: 'canvas', width: 1584, height: 1532 });
chart.setOption(option);
</script>
</body>
</html>
